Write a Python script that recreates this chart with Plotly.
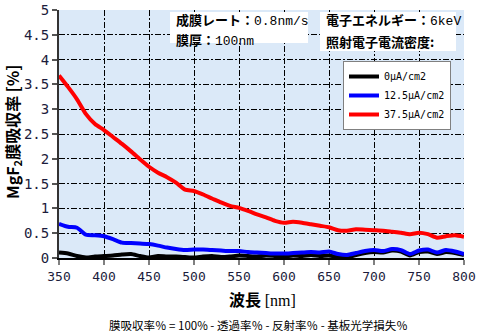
import plotly.graph_objects as go

# Wavelength grid [nm]
wavelength = list(range(350, 801, 10))

# Absorption of the MgF2 film [%] for each irradiation current density
abs_0 = [0.11, 0.09, 0.04, 0.01, 0.03, 0.04, 0.05, 0.07, 0.08, 0.04,
         0.01, 0.04, 0.03, 0.03, 0.02, 0.01, 0.03, 0.04, 0.02, 0.03,
         0.05, 0.04, 0.03, 0.05, 0.04, 0.03, 0.05, 0.04, 0.06, 0.04,
         0.05, 0.02, 0.01, 0.06, 0.10, 0.12, 0.11, 0.15, 0.13, 0.05,
         0.12, 0.13, 0.08, 0.12, 0.10, 0.06]
abs_12_5 = [0.69, 0.63, 0.61, 0.47, 0.46, 0.44, 0.38, 0.31, 0.30, 0.29,
            0.28, 0.25, 0.21, 0.18, 0.16, 0.17, 0.17, 0.16, 0.15, 0.14,
            0.14, 0.12, 0.11, 0.10, 0.09, 0.09, 0.10, 0.11, 0.12, 0.11,
            0.13, 0.08, 0.06, 0.10, 0.14, 0.16, 0.14, 0.18, 0.16, 0.08,
            0.15, 0.17, 0.11, 0.16, 0.13, 0.08]
abs_37_5 = [3.68, 3.45, 3.20, 2.90, 2.70, 2.58, 2.44, 2.30, 2.15, 1.99,
            1.84, 1.72, 1.63, 1.52, 1.38, 1.35, 1.28, 1.20, 1.12, 1.05,
            1.01, 0.95, 0.88, 0.82, 0.75, 0.71, 0.73, 0.71, 0.68, 0.65,
            0.62, 0.56, 0.55, 0.58, 0.57, 0.56, 0.55, 0.53, 0.51, 0.48,
            0.51, 0.48, 0.41, 0.44, 0.46, 0.43]

series_names = ["0µA/cm2", "12.5µA/cm2", "37.5µA/cm2"]
series_colors = ["#000000", "#0000ff", "#ff0000"]

x_ticks = [350, 400, 450, 500, 550, 600, 650, 700, 750, 800]
y_ticks = [0, 0.5, 1, 1.5, 2, 2.5, 3, 3.5, 4, 4.5, 5]
y_tick_text = ["0", "0.5", "1", "1.5", "2", "2.5", "3", "3.5", "4", "4.5", "5"]

MONO = "DejaVu Sans Mono"
JP = "Noto Sans CJK JP"

# Plot-area geometry in pixels (used to place the boxes and notes)
L, R, T, B = 59, 464, 10, 258
PW, PH = R - L, B - T

fig = go.Figure()
for name, color, ys in zip(series_names, series_colors, [abs_0, abs_12_5, abs_37_5]):
    fig.add_trace(go.Scatter(
        x=wavelength, y=ys, name=name, mode="lines",
        line=dict(color=color, width=4, shape="spline", smoothing=0.6),
    ))

grid_dash = "6px,2px,2px,2px"
fig.update_layout(
    width=480, height=335,
    margin=dict(l=L, r=480 - R, t=T, b=335 - B, autoexpand=False),
    paper_bgcolor="white",
    plot_bgcolor="#dbe9f8",
    showlegend=True,
    legend=dict(
        x=(343 - L) / PW, y=(B - 61) / PH, xanchor="left", yanchor="top",
        bgcolor="white", bordercolor="#808080", borderwidth=1,
        font=dict(family=MONO, size=10, color="#000"),
        itemwidth=30, tracegroupgap=0,
    ),
    xaxis=dict(
        range=[350, 800], tickvals=x_ticks, automargin=False,
        showgrid=True, gridcolor="#000", gridwidth=1, griddash=grid_dash,
        showline=True, linecolor="#000", linewidth=2,
        ticks="outside", ticklen=5, tickcolor="#808080", tickwidth=2,
        tickfont=dict(family=MONO, size=13, color="#1c1c3c"),
        zeroline=False,
    ),
    yaxis=dict(
        range=[0, 5], tickvals=y_ticks, ticktext=y_tick_text, automargin=False,
        showgrid=True, gridcolor="#000", gridwidth=1, griddash=grid_dash,
        showline=True, linecolor="#333", linewidth=2,
        ticks="outside", ticklen=5, tickcolor="#555", tickwidth=2,
        tickfont=dict(family=MONO, size=14, color="#1c1c3c"),
        zeroline=False,
    ),
)

# Condition boxes in the upper part of the plot
boxes = [(170, 12, 308, 43), (320, 12, 456, 51)]
for x0, y0, x1, y1 in boxes:
    fig.add_shape(type="rect", xref="paper", yref="paper",
                  x0=(x0 - L) / PW, x1=(x1 - L) / PW,
                  y0=(B - y1) / PH, y1=(B - y0) / PH,
                  fillcolor="white", line=dict(width=0), layer="above")

def note(px, py, text, size=13, anchor="left"):
    fig.add_annotation(xref="paper", yref="paper",
                       x=(px - L) / PW, y=(B - py) / PH,
                       xanchor=anchor, yanchor="middle", showarrow=False,
                       text=text, font=dict(family=JP, size=size, color="#000"))

note(174, 20, "<b>成膜レート：</b><span style='font-family:Liberation Mono'>0.8nm/s</span>")
note(174, 39, "<b>膜厚：</b><span style='font-family:Liberation Mono'>100nm</span>")
note(324, 20, "<b>電子エネルギー：</b><span style='font-family:Liberation Mono'>6keV</span>")
note(324, 41, "<b>照射電子電流密度:</b>")

# Axis titles and footnote
note(262, 299, "<b>波長 </b><span style='font-family:Liberation Serif'>[nm]</span>", size=16, anchor="center")
note(258, 325, "膜吸収率％ = 100% - 透過率％ - 反射率％ - 基板光学損失％", size=11.5, anchor="center")
fig.add_annotation(xref="paper", yref="paper", x=(12 - L) / PW, y=(B - 132) / PH,
                   xanchor="center", yanchor="middle", showarrow=False, textangle=-90,
                   text="<b>MgF<sub>2</sub>膜吸収率 [%]</b>",
                   font=dict(family=JP, size=16, color="#000"))

fig.write_html("out.html")
